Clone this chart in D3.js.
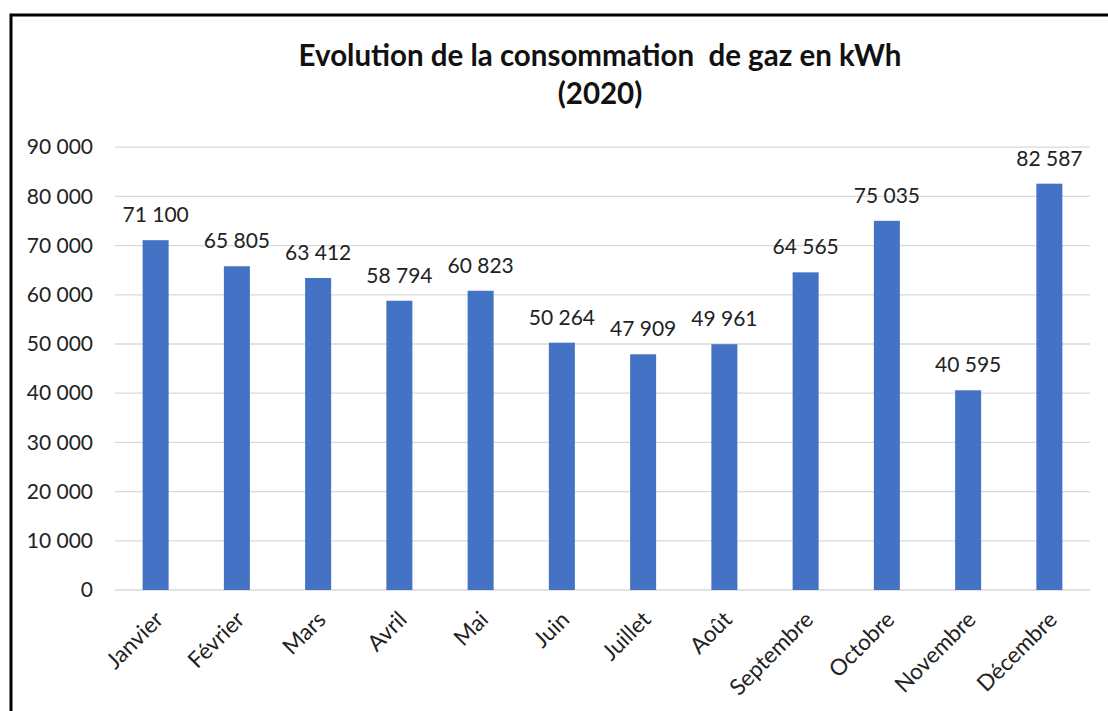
<!DOCTYPE html>
<html lang="fr">
<head>
<meta charset="UTF-8">
<style>
  body { margin: 0; background: #fff; }
  svg { display: block; font-family: Lato, "Open Sans", sans-serif; }
</style>
<script src="https://d3js.org/d3.v7.min.js"></script>
</head>
<body>
<svg id="chart" width="1108" height="711"></svg>
<script>
// data
const months = ["Janvier", "Février", "Mars", "Avril", "Mai", "Juin", "Juillet",
  "Août", "Septembre", "Octobre", "Novembre", "Décembre"];
const conso = [71100, 65805, 63412, 58794, 60823, 50264, 47909, 49961, 64565, 75035, 40595, 82587];
const yTicks = [0, 10000, 20000, 30000, 40000, 50000, 60000, 70000, 80000, 90000];
const titleLines = ["Evolution de la consommation  de gaz en kWh", "(2020)"];

const svg = d3.select("#chart");

// outer frame (right and bottom sides are cut off in the original)
svg.append("rect")
  .attr("x", 11).attr("y", 15)
  .attr("width", 1130).attr("height", 720)
  .attr("fill", "none")
  .attr("stroke", "#000")
  .attr("stroke-width", 3);

const plotLeft = 115, plotRight = 1090, plotTop = 147.2, plotBottom = 590;

const x = d3.scaleBand()
  .domain(months)
  .range([plotLeft, plotRight])
  .paddingInner(0.68)
  .paddingOuter(0.34);

const y = d3.scaleLinear()
  .domain([0, 90000])
  .range([plotBottom, plotTop]);

const fmt = v => d3.format(",")(v).replace(/,/g, "\u00a0");

// gridlines
svg.append("g")
  .selectAll("line")
  .data(yTicks)
  .join("line")
  .attr("x1", plotLeft).attr("x2", plotRight)
  .attr("y1", d => y(d)).attr("y2", d => y(d))
  .attr("stroke", "#d9d9d9")
  .attr("stroke-width", 1.3);

// y axis labels
const yAxis = svg.append("g")
  .attr("transform", `translate(${plotLeft - 22},0)`)
  .call(d3.axisLeft(y).tickValues(yTicks).tickFormat(fmt).tickSize(0).tickPadding(0));
yAxis.select(".domain").remove();
yAxis.selectAll("text")
  .attr("font-family", "Lato, sans-serif")
  .attr("font-size", 21)
  .attr("fill", "#222");

// bars
svg.append("g")
  .selectAll("rect")
  .data(conso)
  .join("rect")
  .attr("x", (d, i) => x(months[i]))
  .attr("y", d => y(d))
  .attr("width", x.bandwidth())
  .attr("height", d => plotBottom - y(d))
  .attr("fill", "#4472c4");

// value labels
svg.append("g")
  .selectAll("text")
  .data(conso)
  .join("text")
  .attr("x", (d, i) => x(months[i]) + x.bandwidth() / 2)
  .attr("y", d => y(d) - 18)
  .attr("text-anchor", "middle")
  .attr("font-size", 21)
  .attr("fill", "#222")
  .text(fmt);

// x axis labels, rotated
const xAxis = svg.append("g")
  .attr("transform", `translate(0,${plotBottom})`)
  .call(d3.axisBottom(x).tickSize(0).tickPadding(0));
xAxis.select(".domain").remove();
xAxis.selectAll("text")
  .attr("font-family", "Lato, sans-serif")
  .attr("font-size", 22.5)
  .attr("fill", "#222")
  .attr("text-anchor", "end")
  .attr("dy", 0)
  .attr("y", 0)
  .attr("transform", "translate(9,31) rotate(-45)");

// title
svg.append("g")
  .selectAll("text")
  .data(titleLines)
  .join("text")
  .attr("x", 600)
  .attr("y", (d, i) => 66 + i * 38)
  .attr("text-anchor", "middle")
  .attr("font-size", 29.5)
  .attr("font-weight", 700)
  .attr("fill", "#111")
  .attr("xml:space", "preserve")
  .style("white-space", "pre")
  .text(d => d);
</script>
</body>
</html>
